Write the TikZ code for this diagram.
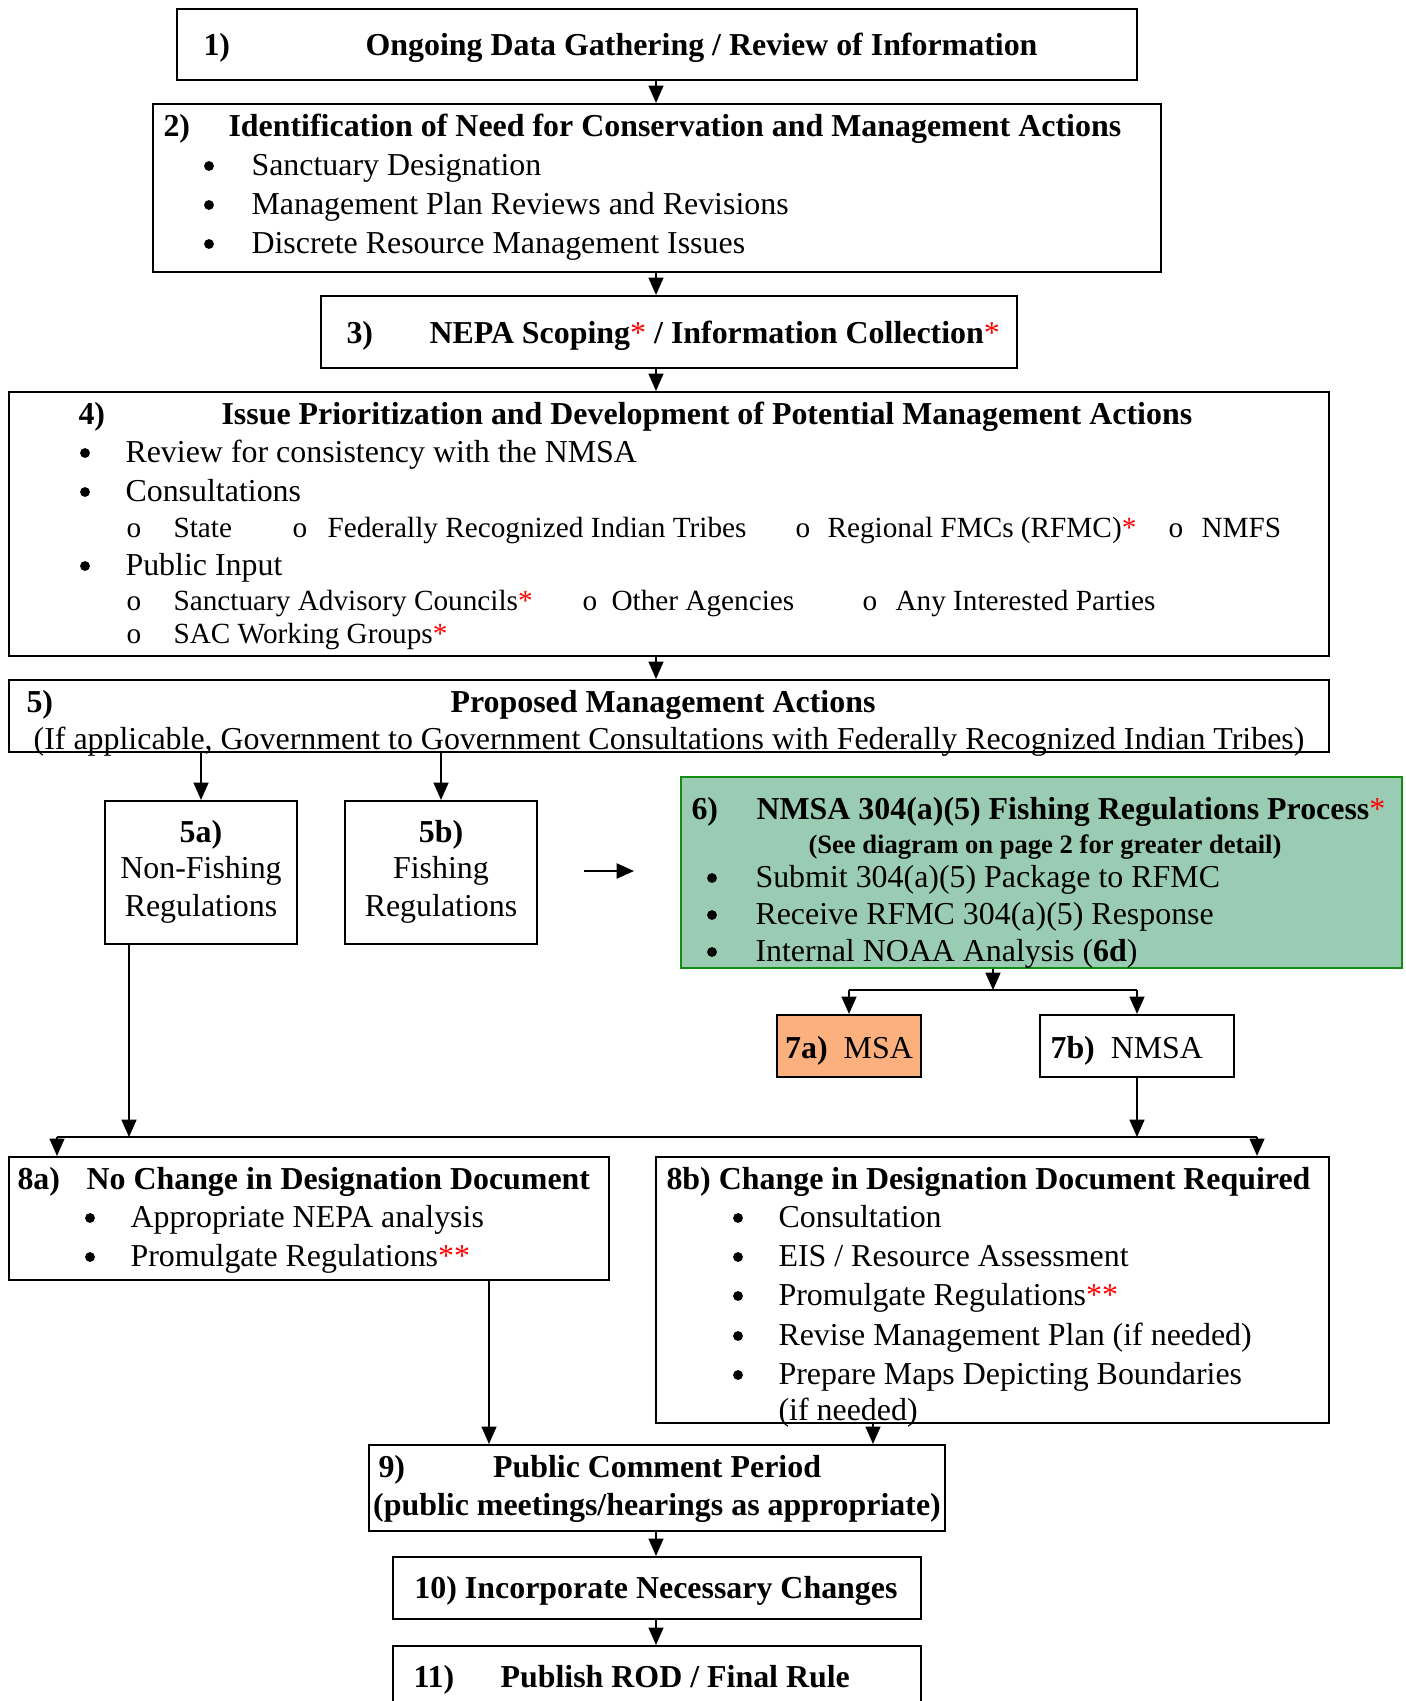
\documentclass[tikz,border=0pt]{standalone}
\usepackage{fontspec}
\setmainfont{Liberation Serif}
\usetikzlibrary{fit,arrows.meta}
\definecolor{grfill}{RGB}{154,204,180}
\definecolor{grline}{RGB}{20,140,20}
\definecolor{orfill}{RGB}{252,176,126}
\newcommand{\rs}{\textcolor{red}{\mdseries*}}
\begin{document}
\begin{tikzpicture}[x=0.376pt,y=-0.376pt,
  every node/.style={font=\fontsize{12}{14}\selectfont},
  box/.style={draw, line width=0.8pt, inner sep=0pt},
  t/.style={anchor=base west, inner sep=0pt},
  tc/.style={anchor=base, inner sep=0pt},
  b/.style={font=\fontsize{12}{14}\selectfont\bfseries},
  sm/.style={font=\fontsize{11}{13}\selectfont},
  dot/.style={circle, fill, inner sep=0pt, minimum size=3.7pt},
  arr/.style={line width=0.6pt, -{Triangle[length=6.5pt,width=5.6pt]}},
  ln/.style={line width=0.6pt}]
\useasboundingbox (0,0) rectangle (1406,1701);
\clip (0,0) rectangle (1406,1701);
% boxes
\node[box, fit={(177,9)(1137,80)}] (b1) {};
\node[box, fit={(153,104)(1161,272)}] (b2) {};
\node[box, fit={(321,296)(1017,368)}] (b3) {};
\node[box, fit={(9,392)(1329,656)}] (b4) {};
\node[box, fit={(9,680)(1329,752)}] (b5) {};
\node[box, fit={(105,801)(297,944)}] (b5a) {};
\node[box, fit={(345,801)(537,944)}] (b5b) {};
\node[box, draw=grline, fill=grfill, fit={(681,777)(1402,968)}] (b6) {};
\node[box, fill=orfill, fit={(777,1015)(921,1077)}] (b7a) {};
\node[box, fit={(1040,1015)(1234,1077)}] (b7b) {};
\node[box, fit={(9,1157)(609,1280)}] (b8a) {};
\node[box, fit={(656,1157)(1329,1423)}] (b8b) {};
\node[box, fit={(369,1445)(945,1531)}] (b9) {};
\node[box, fit={(393,1557)(921,1619)}] (b10) {};
\node[box, fit={(393,1646)(921,1720)}] (b11) {};
% box 1
\node[t,b] (n1) at (203,55) {1)};
\node[t,b] (h1) at (365,55) {Ongoing Data Gathering / Review of Information};
% box 2
\node[t,b] (n2) at (163,136) {2)};
\node[t,b] (h2) at (228,136) {Identification of Need for Conservation and Management Actions};
\node[dot] (p21) at (209,166) {}; \node[t] (l21) at (251,175) {Sanctuary Designation};
\node[dot] (p22) at (209,205) {}; \node[t] (l22) at (251,214) {Management Plan Reviews and Revisions};
\node[dot] (p23) at (209,244) {}; \node[t] (l23) at (251,253) {Discrete Resource Management Issues};
% box 3
\node[t,b] (n3) at (346,343) {3)};
\node[t,b] (h3) at (429,343) {NEPA Scoping\rs{} / Information Collection\rs};
% box 4
\node[t,b] (n4) at (78,424) {4)};
\node[t,b] (h4) at (221,424) {Issue Prioritization and Development of Potential Management Actions};
\node[dot] (p41) at (85,453) {}; \node[t] (l41) at (125,462) {Review for consistency with the NMSA};
\node[dot] (p42) at (85,492) {}; \node[t] (l42) at (125,501) {Consultations};
\node[t,sm] (o1) at (126,537) {o}; \node[t,sm] (s1) at (173,537) {State};
\node[t,sm] (o2) at (292,537) {o}; \node[t,sm] (s2) at (327,537) {Federally Recognized Indian Tribes};
\node[t,sm] (o3) at (795,537) {o}; \node[t,sm] (s3) at (827,537) {Regional FMCs (RFMC)\rs};
\node[t,sm] (o4) at (1168,537) {o}; \node[t,sm] (s4) at (1201,537) {NMFS};
\node[dot] (p43) at (85,566) {}; \node[t] (l43) at (125,575) {Public Input};
\node[t,sm] (o5) at (126,610) {o}; \node[t,sm] (s5) at (173,610) {Sanctuary Advisory Councils\rs};
\node[t,sm] (o6) at (582,610) {o}; \node[t,sm] (s6) at (611,610) {Other Agencies};
\node[t,sm] (o7) at (862,610) {o}; \node[t,sm] (s7) at (895,610) {Any Interested Parties};
\node[t,sm] (o8) at (126,643) {o}; \node[t,sm] (s8) at (173,643) {SAC Working Groups\rs};
% box 5
\node[t,b] (n5) at (26,712) {5)};
\node[tc,b] (h5) at (663,712) {Proposed Management Actions};
\node[tc] (l5) at (669,749) {(If applicable, Government to Government Consultations with Federally Recognized Indian Tribes)};
% 5a 5b
\node[tc,b] (n5a) at (201,842) {5a)};
\node[tc] (l5a1) at (201,878) {Non-Fishing};
\node[tc] (l5a2) at (201,916) {Regulations};
\node[tc,b] (n5b) at (441,842) {5b)};
\node[tc] (l5b1) at (441,878) {Fishing};
\node[tc] (l5b2) at (441,916) {Regulations};
% box 6
\node[t,b] (n6) at (691,819) {6)};
\node[t,b] (h6) at (756,819) {NMSA 304(a)(5) Fishing Regulations Process\rs};
\node[tc,font=\fontsize{10}{12}\selectfont\bfseries] (h6b) at (1045,853) {(See diagram on page 2 for greater detail)};
\node[dot] (p61) at (712,878) {}; \node[t] (l61) at (755,887) {Submit 304(a)(5) Package to RFMC};
\node[dot] (p62) at (712,915) {}; \node[t] (l62) at (755,924) {Receive RFMC 304(a)(5) Response};
\node[dot] (p63) at (712,952) {}; \node[t] (l63) at (755,961) {Internal NOAA Analysis (\textbf{6d})};
% 7a 7b
\node[tc] (l7a) at (849,1058) {\textbf{7a)}\ \ MSA};
\node[t] (l7b) at (1050,1058) {\textbf{7b)}\ \ NMSA};
% 8a
\node[t,b] (n8a) at (17,1189) {8a)};
\node[t,b] (h8a) at (86,1189) {No Change in Designation Document};
\node[dot] (p81) at (90,1218) {}; \node[t] (l81) at (130,1227) {Appropriate NEPA analysis};
\node[dot] (p82) at (90,1257) {}; \node[t] (l82) at (130,1266) {Promulgate Regulations\rs\rs};
% 8b
\node[t,b] (h8b) at (666,1189) {8b) Change in Designation Document Required};
\node[dot] (q1) at (738,1218) {}; \node[t] (m1) at (778,1227) {Consultation};
\node[dot] (q2) at (738,1257) {}; \node[t] (m2) at (778,1266) {EIS / Resource Assessment};
\node[dot] (q3) at (738,1296) {}; \node[t] (m3) at (778,1305) {Promulgate Regulations\rs\rs};
\node[dot] (q4) at (738,1336) {}; \node[t] (m4) at (778,1345) {Revise Management Plan (if needed)};
\node[dot] (q5) at (738,1375) {}; \node[t] (m5) at (778,1384) {Prepare Maps Depicting Boundaries};
\node[t] (m6) at (778,1420) {(if needed)};
% 9 10 11
\node[t,b] (n9) at (378,1477) {9)};
\node[tc,b] (h9) at (657,1477) {Public Comment Period};
\node[tc,b] (l9) at (657,1515) {(public meetings/hearings as appropriate)};
\node[tc,b] (h10) at (656,1598) {10) Incorporate Necessary Changes};
\node[t,b] (n11) at (413,1687) {11)};
\node[t,b] (h11) at (500,1687) {Publish ROD / Final Rule};
% connectors
\coordinate (xm) at (656,0);
\draw[arr] (b1.south -| xm) -- (b2.north -| xm);
\draw[arr] (b2.south -| xm) -- (b3.north -| xm);
\draw[arr] (b3.south -| xm) -- (b4.north -| xm);
\draw[arr] (b4.south -| xm) -- (b5.north -| xm);
\draw[arr] (b5.south -| b5a.north) -- (b5a.north);
\draw[arr] (b5.south -| b5b.north) -- (b5b.north);
\coordinate (a0) at (584,871);
\coordinate (a1) at (634,871);
\draw[arr, line width=0.9pt] (a0) -- (a1);
\coordinate (x6) at (993,990);
\draw[arr] (b6.south -| x6) -- (x6);
\draw[ln] (b7a.north |- x6) -- (b7b.north |- x6);
\draw[arr] (b7a.north |- x6) -- (b7a.north);
\draw[arr] (b7b.north |- x6) -- (b7b.north);
\coordinate (j8) at (129,1137);
\draw[arr] (b5a.south -| j8) -- (j8);
\draw[arr] (b7b.south) -- (b7b.south |- j8);
\coordinate (ja) at (57,1137);
\coordinate (jb) at (1257,1137);
\draw[ln, line width=0.9pt] (ja) -- (jb);
\draw[arr] (ja) -- (b8a.north -| ja);
\draw[arr] (jb) -- (b8b.north -| jb);
\coordinate (c9a) at (489,0);
\coordinate (c9b) at (873,0);
\draw[arr] (b8a.south -| c9a) -- (b9.north -| c9a);
\draw[arr] (b8b.south -| c9b) -- (b9.north -| c9b);
\draw[arr] (b9.south -| xm) -- (b10.north -| xm);
\draw[arr] (b10.south -| xm) -- (b11.north -| xm);
\end{tikzpicture}
\end{document}
